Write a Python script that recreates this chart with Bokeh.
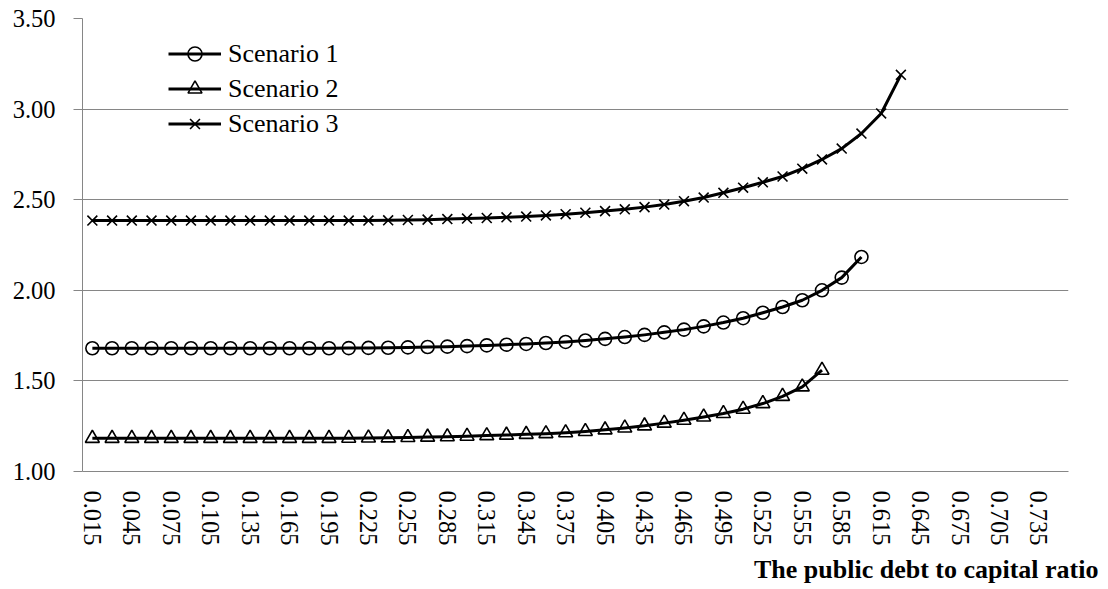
from bokeh.plotting import figure
from bokeh.models import (Range1d, FixedTicker, PrintfTickFormatter, Legend, LegendItem, Title)
from bokeh.embed import file_html
from bokeh.resources import INLINE

# ---- data ----
ratio = [0.015, 0.030, 0.045, 0.060, 0.075, 0.090, 0.105, 0.120, 0.135, 0.150,
         0.165, 0.180, 0.195, 0.210, 0.225, 0.240, 0.255, 0.270, 0.285, 0.300,
         0.315, 0.330, 0.345, 0.360, 0.375, 0.390, 0.405, 0.420, 0.435, 0.450,
         0.465, 0.480, 0.495, 0.510, 0.525, 0.540, 0.555, 0.570, 0.585, 0.600,
         0.615, 0.630, 0.645, 0.660, 0.675, 0.690, 0.705, 0.720, 0.735, 0.750]

tick_labels = ["0.015", "0.045", "0.075", "0.105", "0.135", "0.165", "0.195", "0.225",
               "0.255", "0.285", "0.315", "0.345", "0.375", "0.405", "0.435", "0.465",
               "0.495", "0.525", "0.555", "0.585", "0.615", "0.645", "0.675", "0.705",
               "0.735"]

y_ticks = [1.00, 1.50, 2.00, 2.50, 3.00, 3.50]

scenario1 = [1.680, 1.680, 1.680, 1.680, 1.680, 1.680, 1.680, 1.680, 1.680, 1.680,
             1.680, 1.680, 1.680, 1.681, 1.682, 1.683, 1.685, 1.687, 1.689, 1.692,
             1.696, 1.700, 1.704, 1.709, 1.715, 1.723, 1.732, 1.742, 1.754, 1.768,
             1.783, 1.801, 1.822, 1.846, 1.876, 1.908, 1.945, 2.000, 2.070, 2.184]

scenario2 = [1.183, 1.183, 1.183, 1.183, 1.183, 1.183, 1.183, 1.183, 1.183, 1.183,
             1.183, 1.183, 1.183, 1.184, 1.185, 1.186, 1.188, 1.190, 1.192, 1.195,
             1.198, 1.201, 1.205, 1.209, 1.214, 1.221, 1.230, 1.240, 1.252, 1.267,
             1.283, 1.301, 1.320, 1.344, 1.375, 1.415, 1.467, 1.559]

scenario3 = [2.385, 2.385, 2.385, 2.385, 2.385, 2.385, 2.385, 2.385, 2.385, 2.385,
             2.385, 2.385, 2.385, 2.385, 2.385, 2.386, 2.388, 2.390, 2.393, 2.396,
             2.399, 2.403, 2.407, 2.413, 2.420, 2.428, 2.437, 2.447, 2.459, 2.473,
             2.492, 2.512, 2.538, 2.566, 2.596, 2.628, 2.671, 2.722, 2.782, 2.865,
             2.976, 3.189]

series_names = ["Scenario 1", "Scenario 2", "Scenario 3"]
x_title = "The public debt to capital ratio"

FONT = "Liberation Serif"
GRID = "#868686"

p = figure(width=1100, height=587, output_backend="svg", toolbar_location=None,
           x_range=Range1d(0.0075, 0.7575), y_range=Range1d(1.0, 3.5),
           min_border_left=82, min_border_right=32, min_border_top=18, min_border_bottom=116)
p.outline_line_color = None
p.background_fill_color = "white"
p.border_fill_color = "white"

# grid
p.xgrid.grid_line_color = None
p.ygrid.grid_line_color = GRID
p.ygrid.grid_line_width = 1
p.ygrid.ticker = FixedTicker(ticks=y_ticks)

# y axis
p.yaxis.ticker = FixedTicker(ticks=y_ticks)
p.yaxis.formatter = PrintfTickFormatter(format="%.2f")
p.yaxis.axis_line_color = GRID
p.yaxis.major_tick_line_color = GRID
p.yaxis.major_tick_out = 9
p.yaxis.major_tick_in = 0
p.yaxis.minor_tick_line_color = None
p.yaxis.major_label_standoff = 18
p.yaxis.major_label_text_font = FONT
p.yaxis.major_label_text_font_size = "24.5px"
p.yaxis.major_label_text_color = "black"

# x axis
p.xaxis.ticker = FixedTicker(ticks=[float(t) for t in tick_labels])
p.xaxis.formatter = PrintfTickFormatter(format="%.3f")
p.xaxis.axis_line_color = GRID
p.xaxis.major_tick_line_color = None
p.xaxis.major_tick_out = 0
p.xaxis.major_tick_in = 0
p.xaxis.minor_tick_line_color = None
p.xaxis.major_label_orientation = "vertical"
p.xaxis.major_label_standoff = 19
p.xaxis.major_label_text_font = FONT
p.xaxis.major_label_text_font_size = "24.5px"
p.xaxis.major_label_text_color = "black"

items = []
specs = [(scenario1, "circle", 13), (scenario2, "triangle", 14), (scenario3, "x", 14)]
for name, (vals, marker, size) in zip(series_names, specs):
    xs = ratio[:len(vals)]
    lr = p.line(xs, vals, line_color="black", line_width=3, line_join="round")
    mr = p.scatter(xs, vals, marker=marker, size=size, line_color="black",
                   line_width=1.6, fill_color="white", fill_alpha=0)
    items.append(LegendItem(label=name, renderers=[lr, mr]))

legend = Legend(items=items, location=(86, 330), orientation="vertical",
                background_fill_alpha=0, border_line_color=None,
                glyph_width=53, glyph_height=35, spacing=0, padding=0, margin=0,
                label_standoff=7, label_text_font=FONT, label_text_font_size="26px",
                label_text_color="black", label_height=35)
p.add_layout(legend, "center")

title = Title(text=x_title, align="right", offset=-30, standoff=8,
              text_font=FONT, text_font_size="26px", text_font_style="bold",
              text_color="black")
p.add_layout(title, "below")

open("out.html", "w").write(file_html(p, INLINE))
